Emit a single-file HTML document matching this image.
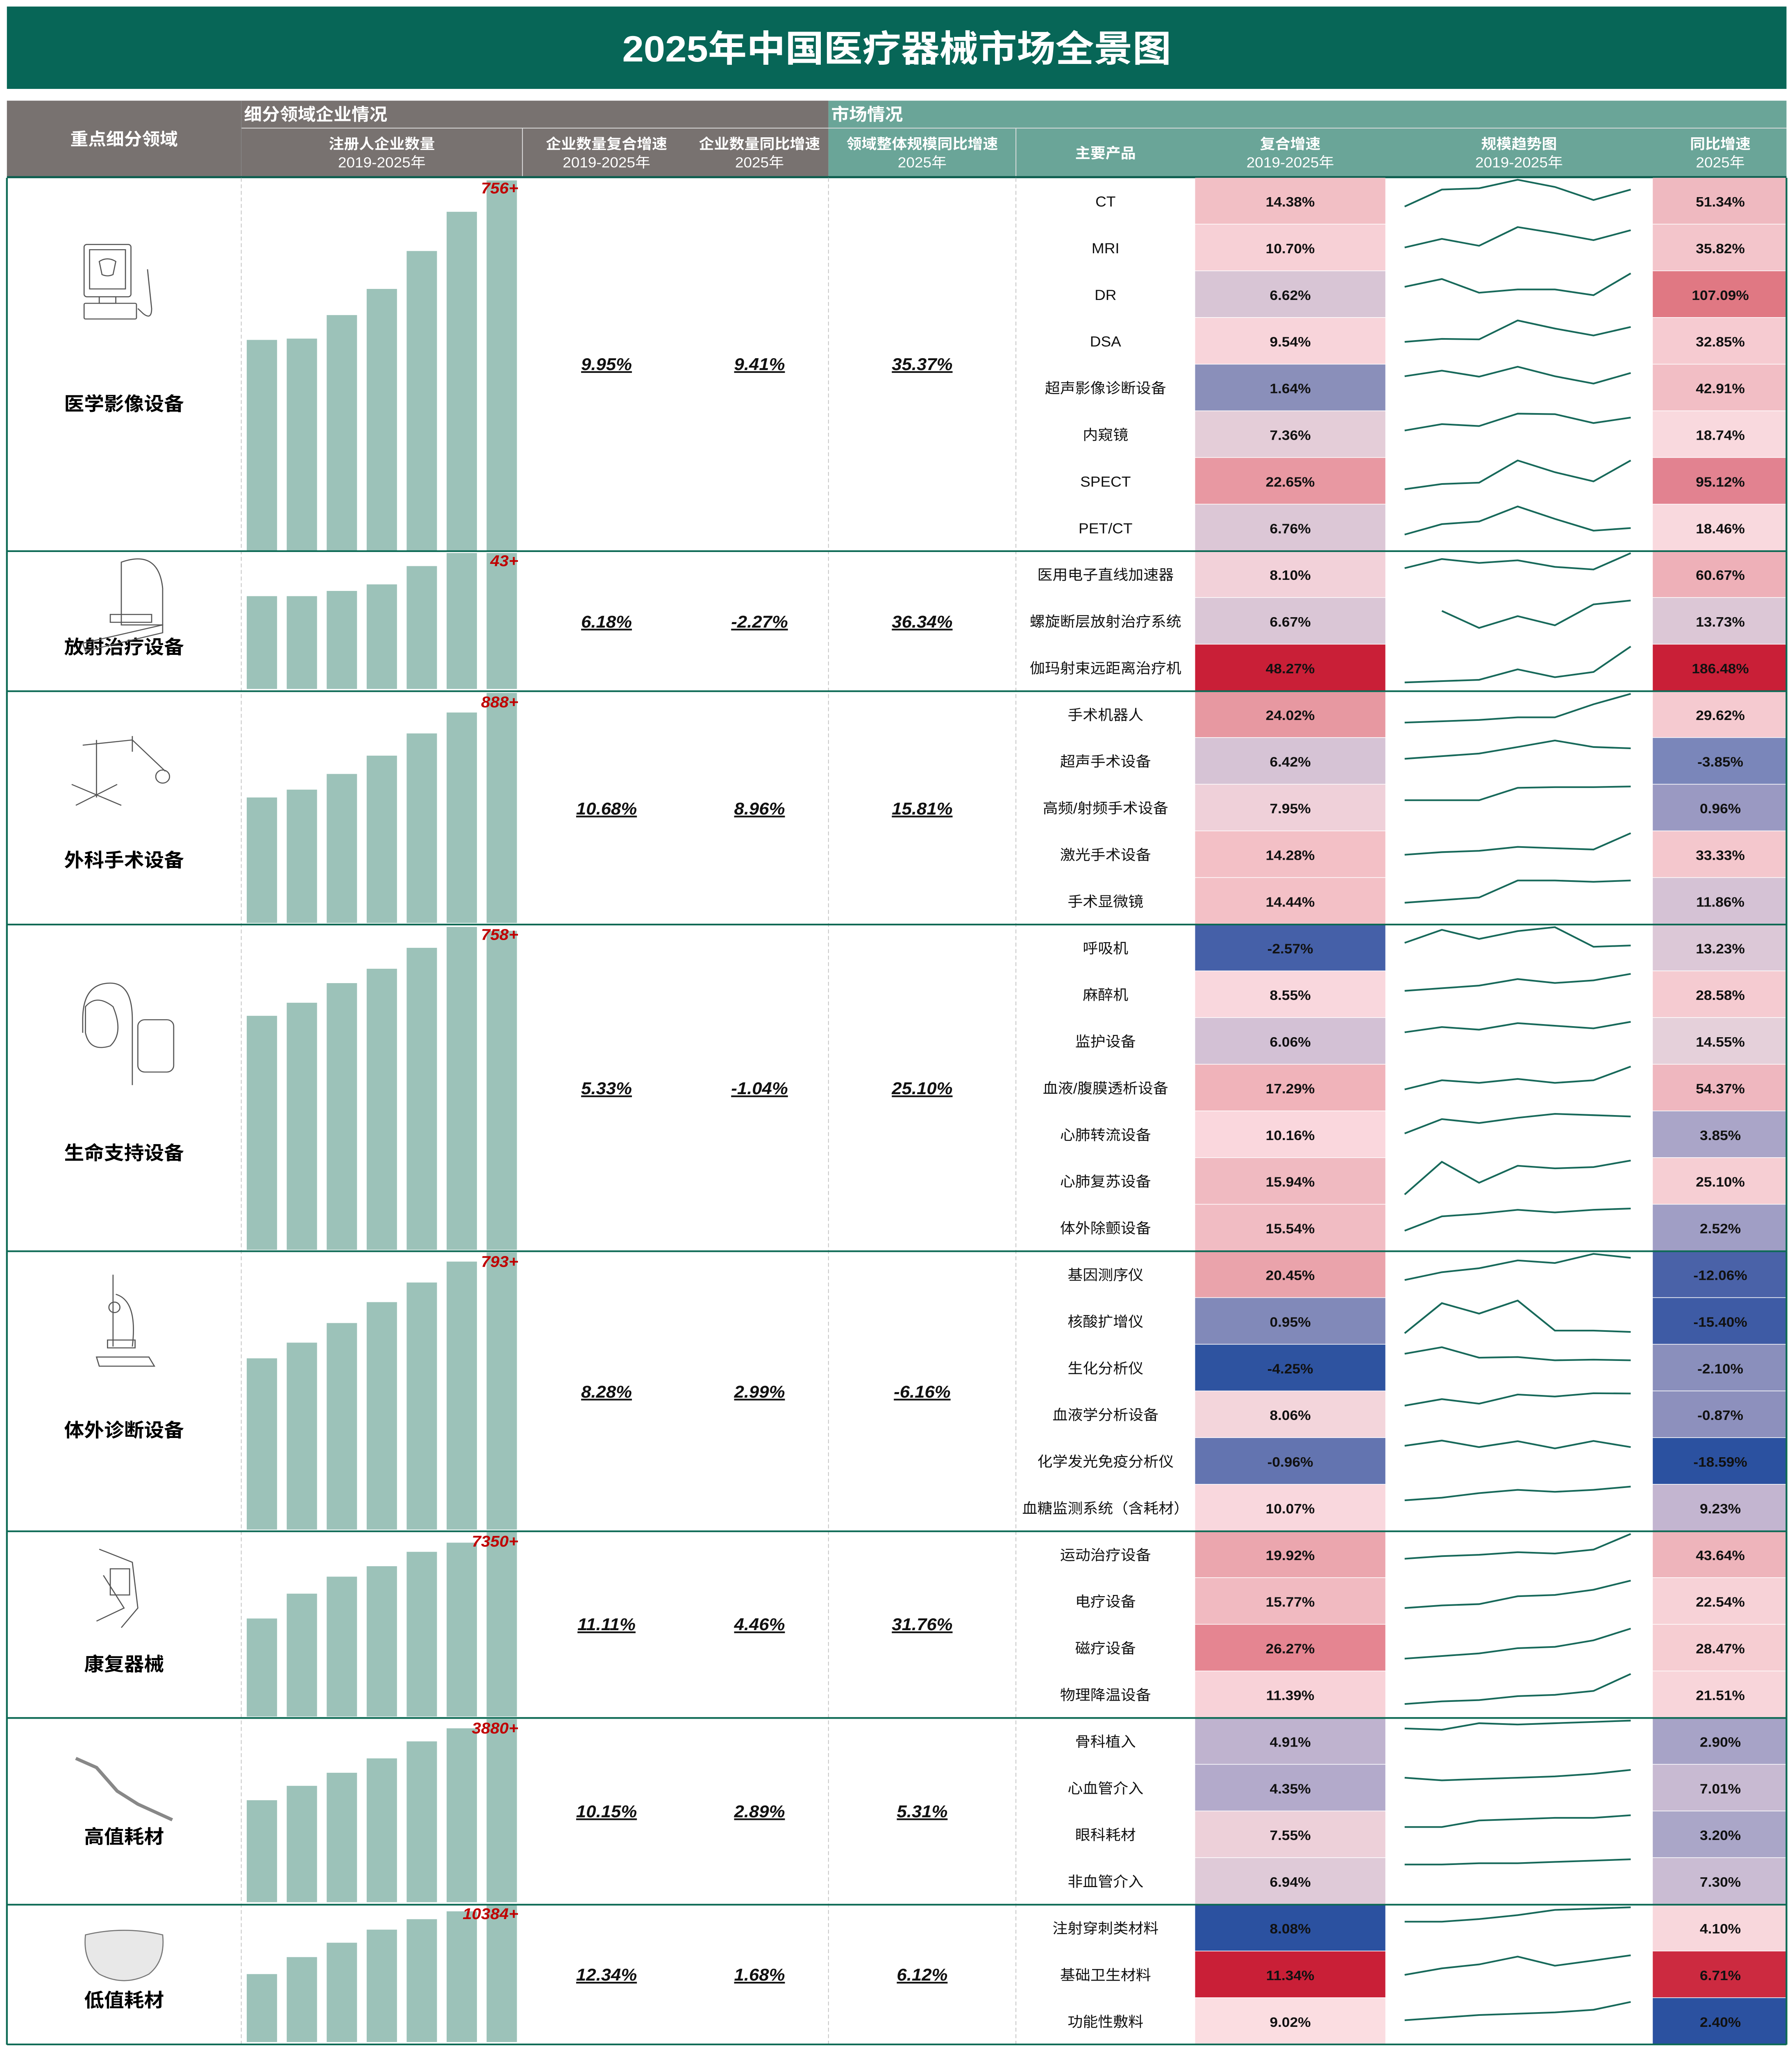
<!DOCTYPE html>
<html><head><meta charset="utf-8"><style>
html,body{margin:0;padding:0;background:#fff;width:100%;height:100%;overflow:hidden}
svg{display:block;position:fixed;left:0;top:0;width:100vw;height:100vh}
text{font-family:"Liberation Sans","Noto Sans CJK SC",sans-serif}
.p{font-size:11px;fill:#111;text-anchor:middle}
.v{font-size:10.5px;fill:#111;text-anchor:middle;font-weight:bold}
.hb{font-size:11px;fill:#fff;font-weight:bold;text-anchor:middle}
.hn{font-size:11px;fill:#fff;text-anchor:middle}
.sn{font-size:14.5px;fill:#000;font-weight:bold;text-anchor:middle}
.big{font-size:13px;fill:#111;font-weight:bold;font-style:italic;text-anchor:middle;text-decoration:underline}
.lab{font-size:12px;fill:#c00000;font-weight:bold;font-style:italic;text-anchor:end}
.sp{fill:none;stroke:#17695a;stroke-width:1.3}
.b{fill:#9cc2b9}
.ic{fill:none;stroke:#555;stroke-width:0.8}
</style></head><body>
<svg viewBox="0 0 1300 1567.3" preserveAspectRatio="none" xmlns="http://www.w3.org/2000/svg">
<rect x="0" y="0" width="1300" height="1567.3" fill="#fff"/>
<rect x="5" y="5" width="1291" height="63" fill="#076657"/>
<text x="650.5" y="47" style="font-size:28px;fill:#fff;font-weight:bold;text-anchor:middle">2025年中国医疗器械市场全景图</text>
<rect x="5" y="77" width="596" height="58" fill="#787270"/>
<rect x="601" y="77" width="695" height="58" fill="#6aa598"/>
<line x1="175" y1="98" x2="1296" y2="98" stroke="#ddd" stroke-width="0.6"/>
<line x1="379" y1="98" x2="379" y2="135" stroke="#ddd" stroke-width="0.6"/>
<line x1="737" y1="98" x2="737" y2="135" stroke="#ddd" stroke-width="0.6"/>
<line x1="175" y1="77" x2="175" y2="135" stroke="#888" stroke-width="0.4"/>
<text x="90" y="111" style="font-size:13px;fill:#fff;font-weight:bold;text-anchor:middle">重点细分领域</text>
<text x="177" y="92" style="font-size:13px;fill:#fff;font-weight:bold">细分领域企业情况</text>
<text x="603" y="92" style="font-size:13px;fill:#fff;font-weight:bold">市场情况</text>
<text class="hb" x="277" y="114">注册人企业数量</text><text class="hn" x="277" y="128">2019-2025年</text>
<text class="hb" x="440" y="114">企业数量复合增速</text><text class="hn" x="440" y="128">2019-2025年</text>
<text class="hb" x="551" y="114">企业数量同比增速</text><text class="hn" x="551" y="128">2025年</text>
<text class="hb" x="669" y="114">领域整体规模同比增速</text><text class="hn" x="669" y="128">2025年</text>
<text class="hb" x="802" y="121">主要产品</text>
<text class="hb" x="936" y="114">复合增速</text><text class="hn" x="936" y="128">2019-2025年</text>
<text class="hb" x="1102" y="114">规模趋势图</text><text class="hn" x="1102" y="128">2019-2025年</text>
<text class="hb" x="1248" y="114">同比增速</text><text class="hn" x="1248" y="128">2025年</text>
<line x1="5" y1="135.5" x2="1296" y2="135.5" stroke="#0d5e4f" stroke-width="1.6"/>

<line x1="175" y1="136" x2="175" y2="1564" stroke="#bbb" stroke-width="0.5" stroke-dasharray="3,2"/>
<line x1="601" y1="136" x2="601" y2="1564" stroke="#bbb" stroke-width="0.5" stroke-dasharray="3,2"/>
<line x1="737" y1="136" x2="737" y2="1564" stroke="#bbb" stroke-width="0.5" stroke-dasharray="3,2"/>

<g transform="translate(0,136)"><text class="p" x="802" y="22">CT</text><rect x="867" y="0" width="138" height="35.2" fill="#f2bfc5"/><text class="v" x="936" y="22">14.38%</text><polyline class="sp" points="1019,22 1046,9 1073,8 1101,1.5 1128,7 1156,17 1183,9"/><rect x="1199" y="0" width="97" height="35.2" fill="#efb9c0"/><text class="v" x="1248" y="22">51.34%</text></g>
<g transform="translate(0,171.7)"><text class="p" x="802" y="22">MRI</text><rect x="867" y="0" width="138" height="35.2" fill="#f7d0d6"/><text class="v" x="936" y="22">10.70%</text><polyline class="sp" points="1019,17.6 1046,11 1073,16.3 1101,2 1128,6.6 1156,12 1183,4.4"/><rect x="1199" y="0" width="97" height="35.2" fill="#f3c5cb"/><text class="v" x="1248" y="22">35.82%</text></g>
<g transform="translate(0,207.4)"><text class="p" x="802" y="22">DR</text><rect x="867" y="0" width="138" height="35.2" fill="#d8c5d5"/><text class="v" x="936" y="22">6.62%</text><polyline class="sp" points="1019,12 1046,6 1073,16.5 1101,14 1128,14 1156,18.4 1183,1.7"/><rect x="1199" y="0" width="97" height="35.2" fill="#e07883"/><text class="v" x="1248" y="22">107.09%</text></g>
<g transform="translate(0,243.1)"><text class="p" x="802" y="22">DSA</text><rect x="867" y="0" width="138" height="35.2" fill="#f8d4da"/><text class="v" x="936" y="22">9.54%</text><polyline class="sp" points="1019,18.4 1046,16.1 1073,16.5 1101,2 1128,8.2 1156,13.5 1183,7"/><rect x="1199" y="0" width="97" height="35.2" fill="#f6cbd1"/><text class="v" x="1248" y="22">32.85%</text></g>
<g transform="translate(0,278.8)"><text class="p" x="802" y="22">超声影像诊断设备</text><rect x="867" y="0" width="138" height="35.2" fill="#8a8fba"/><text class="v" x="936" y="22">1.64%</text><polyline class="sp" points="1019,9 1046,4.7 1073,9.3 1101,1.7 1128,9 1156,14.6 1183,6.5"/><rect x="1199" y="0" width="97" height="35.2" fill="#f2bec5"/><text class="v" x="1248" y="22">42.91%</text></g>
<g transform="translate(0,314.5)"><text class="p" x="802" y="22">内窥镜</text><rect x="867" y="0" width="138" height="35.2" fill="#e4cdd8"/><text class="v" x="936" y="22">7.36%</text><polyline class="sp" points="1019,14.8 1046,9.9 1073,11.4 1101,1.9 1128,2.3 1156,9.1 1183,4.9"/><rect x="1199" y="0" width="97" height="35.2" fill="#f9d9de"/><text class="v" x="1248" y="22">18.74%</text></g>
<g transform="translate(0,350.2)"><text class="p" x="802" y="22">SPECT</text><rect x="867" y="0" width="138" height="35.2" fill="#e898a2"/><text class="v" x="936" y="22">22.65%</text><polyline class="sp" points="1019,24 1046,20 1073,19 1101,2 1128,11 1156,18 1183,2"/><rect x="1199" y="0" width="97" height="35.2" fill="#e28290"/><text class="v" x="1248" y="22">95.12%</text></g>
<g transform="translate(0,385.9)"><text class="p" x="802" y="22">PET/CT</text><rect x="867" y="0" width="138" height="35.2" fill="#dcc7d6"/><text class="v" x="936" y="22">6.76%</text><polyline class="sp" points="1019,23 1046,15 1073,13 1101,1.5 1128,11 1156,20 1183,18"/><rect x="1199" y="0" width="97" height="35.2" fill="#f9d9de"/><text class="v" x="1248" y="22">18.46%</text></g>
<g transform="translate(0,421.6)"><text class="p" x="802" y="22">医用电子直线加速器</text><rect x="867" y="0" width="138" height="35.2" fill="#f2d1d9"/><text class="v" x="936" y="22">8.10%</text><polyline class="sp" points="1019,13 1046,6 1073,9 1101,7 1128,12 1156,14 1183,1.5"/><rect x="1199" y="0" width="97" height="35.2" fill="#eeb0b8"/><text class="v" x="1248" y="22">60.67%</text></g>
<g transform="translate(0,457.3)"><text class="p" x="802" y="22">螺旋断层放射治疗系统</text><rect x="867" y="0" width="138" height="35.2" fill="#dac6d6"/><text class="v" x="936" y="22">6.67%</text><polyline class="sp" points="1046,10 1073,23 1101,14 1128,21 1156,5 1183,2"/><rect x="1199" y="0" width="97" height="35.2" fill="#dcc7d6"/><text class="v" x="1248" y="22">13.73%</text></g>
<g transform="translate(0,493)"><text class="p" x="802" y="22">伽玛射束远距离治疗机</text><rect x="867" y="0" width="138" height="35.2" fill="#c91f37"/><text class="v" x="936" y="22">48.27%</text><polyline class="sp" points="1019,29 1046,28 1073,27 1101,19 1128,25 1156,21 1183,1.5"/><rect x="1199" y="0" width="97" height="35.2" fill="#c91f37"/><text class="v" x="1248" y="22">186.48%</text></g>
<g transform="translate(0,528.7)"><text class="p" x="802" y="22">手术机器人</text><rect x="867" y="0" width="138" height="35.2" fill="#e798a1"/><text class="v" x="936" y="22">24.02%</text><polyline class="sp" points="1019,24 1046,23 1073,22 1101,20 1128,20 1156,10 1183,2"/><rect x="1199" y="0" width="97" height="35.2" fill="#f5cad0"/><text class="v" x="1248" y="22">29.62%</text></g>
<g transform="translate(0,564.4)"><text class="p" x="802" y="22">超声手术设备</text><rect x="867" y="0" width="138" height="35.2" fill="#d6c3d5"/><text class="v" x="936" y="22">6.42%</text><polyline class="sp" points="1019,16 1046,14 1073,12 1101,7 1128,2 1156,7 1183,8"/><rect x="1199" y="0" width="97" height="35.2" fill="#7a86ba"/><text class="v" x="1248" y="22">-3.85%</text></g>
<g transform="translate(0,600.1)"><text class="p" x="802" y="22">高频/射频手术设备</text><rect x="867" y="0" width="138" height="35.2" fill="#efd0d9"/><text class="v" x="936" y="22">7.95%</text><polyline class="sp" points="1019,12 1046,12 1073,12 1101,2.5 1128,2 1156,2 1183,1.5"/><rect x="1199" y="0" width="97" height="35.2" fill="#9a99c2"/><text class="v" x="1248" y="22">0.96%</text></g>
<g transform="translate(0,635.8)"><text class="p" x="802" y="22">激光手术设备</text><rect x="867" y="0" width="138" height="35.2" fill="#f3c0c6"/><text class="v" x="936" y="22">14.28%</text><polyline class="sp" points="1019,18 1046,16 1073,15 1101,12 1128,13 1156,14 1183,1.5"/><rect x="1199" y="0" width="97" height="35.2" fill="#f4c7cd"/><text class="v" x="1248" y="22">33.33%</text></g>
<g transform="translate(0,671.5)"><text class="p" x="802" y="22">手术显微镜</text><rect x="867" y="0" width="138" height="35.2" fill="#f3c0c6"/><text class="v" x="936" y="22">14.44%</text><polyline class="sp" points="1019,19 1046,17 1073,15 1101,2 1128,2 1156,3 1183,2"/><rect x="1199" y="0" width="97" height="35.2" fill="#d5c2d5"/><text class="v" x="1248" y="22">11.86%</text></g>
<g transform="translate(0,707.2)"><text class="p" x="802" y="22">呼吸机</text><rect x="867" y="0" width="138" height="35.2" fill="#4560a8"/><text class="v" x="936" y="22">-2.57%</text><polyline class="sp" points="1019,14 1046,4 1073,11 1101,5 1128,2 1156,17 1183,16"/><rect x="1199" y="0" width="97" height="35.2" fill="#dcc8d7"/><text class="v" x="1248" y="22">13.23%</text></g>
<g transform="translate(0,742.9)"><text class="p" x="802" y="22">麻醉机</text><rect x="867" y="0" width="138" height="35.2" fill="#f9d7dd"/><text class="v" x="936" y="22">8.55%</text><polyline class="sp" points="1019,15 1046,13 1073,11 1101,6 1128,9 1156,7 1183,2"/><rect x="1199" y="0" width="97" height="35.2" fill="#f5cbd1"/><text class="v" x="1248" y="22">28.58%</text></g>
<g transform="translate(0,778.6)"><text class="p" x="802" y="22">监护设备</text><rect x="867" y="0" width="138" height="35.2" fill="#d3c1d5"/><text class="v" x="936" y="22">6.06%</text><polyline class="sp" points="1019,11 1046,7 1073,9 1101,4 1128,6 1156,8 1183,3"/><rect x="1199" y="0" width="97" height="35.2" fill="#e5d0da"/><text class="v" x="1248" y="22">14.55%</text></g>
<g transform="translate(0,814.3)"><text class="p" x="802" y="22">血液/腹膜透析设备</text><rect x="867" y="0" width="138" height="35.2" fill="#f0b3ba"/><text class="v" x="936" y="22">17.29%</text><polyline class="sp" points="1019,19 1046,12 1073,14 1101,11 1128,14 1156,12 1183,1.5"/><rect x="1199" y="0" width="97" height="35.2" fill="#efb7bf"/><text class="v" x="1248" y="22">54.37%</text></g>
<g transform="translate(0,850)"><text class="p" x="802" y="22">心肺转流设备</text><rect x="867" y="0" width="138" height="35.2" fill="#fad7dd"/><text class="v" x="936" y="22">10.16%</text><polyline class="sp" points="1019,17 1046,6 1073,9 1101,5 1128,2 1156,3 1183,4"/><rect x="1199" y="0" width="97" height="35.2" fill="#aaa5c8"/><text class="v" x="1248" y="22">3.85%</text></g>
<g transform="translate(0,885.7)"><text class="p" x="802" y="22">心肺复苏设备</text><rect x="867" y="0" width="138" height="35.2" fill="#f0bac1"/><text class="v" x="936" y="22">15.94%</text><polyline class="sp" points="1019,28 1046,3 1073,19 1101,6 1128,8 1156,7 1183,2"/><rect x="1199" y="0" width="97" height="35.2" fill="#f6ced3"/><text class="v" x="1248" y="22">25.10%</text></g>
<g transform="translate(0,921.4)"><text class="p" x="802" y="22">体外除颤设备</text><rect x="867" y="0" width="138" height="35.2" fill="#f1bcc3"/><text class="v" x="936" y="22">15.54%</text><polyline class="sp" points="1019,20 1046,9 1073,7 1101,4 1128,6 1156,4 1183,3"/><rect x="1199" y="0" width="97" height="35.2" fill="#a09ec5"/><text class="v" x="1248" y="22">2.52%</text></g>
<g transform="translate(0,957.1)"><text class="p" x="802" y="22">基因测序仪</text><rect x="867" y="0" width="138" height="35.2" fill="#eaa3ab"/><text class="v" x="936" y="22">20.45%</text><polyline class="sp" points="1019,22 1046,16 1073,13 1101,7 1128,9 1156,2 1183,5"/><rect x="1199" y="0" width="97" height="35.2" fill="#4a62a8"/><text class="v" x="1248" y="22">-12.06%</text></g>
<g transform="translate(0,992.8)"><text class="p" x="802" y="22">核酸扩增仪</text><rect x="867" y="0" width="138" height="35.2" fill="#8189b9"/><text class="v" x="936" y="22">0.95%</text><polyline class="sp" points="1019,27 1046,4 1073,12 1101,2 1128,25 1156,25 1183,26"/><rect x="1199" y="0" width="97" height="35.2" fill="#3e5ba5"/><text class="v" x="1248" y="22">-15.40%</text></g>
<g transform="translate(0,1028.5)"><text class="p" x="802" y="22">生化分析仪</text><rect x="867" y="0" width="138" height="35.2" fill="#2e53a0"/><text class="v" x="936" y="22">-4.25%</text><polyline class="sp" points="1019,7 1046,2 1073,10 1101,9.5 1128,12 1156,11.5 1183,12"/><rect x="1199" y="0" width="97" height="35.2" fill="#8a8fbc"/><text class="v" x="1248" y="22">-2.10%</text></g>
<g transform="translate(0,1064.2)"><text class="p" x="802" y="22">血液学分析设备</text><rect x="867" y="0" width="138" height="35.2" fill="#f3d5db"/><text class="v" x="936" y="22">8.06%</text><polyline class="sp" points="1019,11 1046,6 1073,9.5 1101,2.5 1128,4 1156,1.5 1183,1.7"/><rect x="1199" y="0" width="97" height="35.2" fill="#8d90bd"/><text class="v" x="1248" y="22">-0.87%</text></g>
<g transform="translate(0,1099.9)"><text class="p" x="802" y="22">化学发光免疫分析仪</text><rect x="867" y="0" width="138" height="35.2" fill="#6374b0"/><text class="v" x="936" y="22">-0.96%</text><polyline class="sp" points="1019,6 1046,2 1073,7 1101,2.5 1128,8 1156,2.3 1183,7"/><rect x="1199" y="0" width="97" height="35.2" fill="#2b51a0"/><text class="v" x="1248" y="22">-18.59%</text></g>
<g transform="translate(0,1135.6)"><text class="p" x="802" y="22">血糖监测系统（含耗材）</text><rect x="867" y="0" width="138" height="35.2" fill="#f9d7dd"/><text class="v" x="936" y="22">10.07%</text><polyline class="sp" points="1019,12 1046,10 1073,6.5 1101,4 1128,5.5 1156,4 1183,1.5"/><rect x="1199" y="0" width="97" height="35.2" fill="#c3b5d0"/><text class="v" x="1248" y="22">9.23%</text></g>
<g transform="translate(0,1171.3)"><text class="p" x="802" y="22">运动治疗设备</text><rect x="867" y="0" width="138" height="35.2" fill="#eba6ae"/><text class="v" x="936" y="22">19.92%</text><polyline class="sp" points="1019,21 1046,19 1073,18 1101,16 1128,17 1156,14 1183,2"/><rect x="1199" y="0" width="97" height="35.2" fill="#eeb4bb"/><text class="v" x="1248" y="22">43.64%</text></g>
<g transform="translate(0,1207)"><text class="p" x="802" y="22">电疗设备</text><rect x="867" y="0" width="138" height="35.2" fill="#f1bac1"/><text class="v" x="936" y="22">15.77%</text><polyline class="sp" points="1019,23 1046,21 1073,20 1101,14 1128,13 1156,9 1183,2"/><rect x="1199" y="0" width="97" height="35.2" fill="#f7d2d7"/><text class="v" x="1248" y="22">22.54%</text></g>
<g transform="translate(0,1242.7)"><text class="p" x="802" y="22">磁疗设备</text><rect x="867" y="0" width="138" height="35.2" fill="#e58591"/><text class="v" x="936" y="22">26.27%</text><polyline class="sp" points="1019,26 1046,24 1073,22 1101,18 1128,17 1156,12 1183,3"/><rect x="1199" y="0" width="97" height="35.2" fill="#f6cdd2"/><text class="v" x="1248" y="22">28.47%</text></g>
<g transform="translate(0,1278.4)"><text class="p" x="802" y="22">物理降温设备</text><rect x="867" y="0" width="138" height="35.2" fill="#f8d2d8"/><text class="v" x="936" y="22">11.39%</text><polyline class="sp" points="1019,25 1046,23 1073,22 1101,19 1128,18 1156,15 1183,2"/><rect x="1199" y="0" width="97" height="35.2" fill="#f8d5da"/><text class="v" x="1248" y="22">21.51%</text></g>
<g transform="translate(0,1314.1)"><text class="p" x="802" y="22">骨科植入</text><rect x="867" y="0" width="138" height="35.2" fill="#bfb3cf"/><text class="v" x="936" y="22">4.91%</text><polyline class="sp" points="1019,8 1046,9 1073,4 1101,5 1128,4 1156,3 1183,2"/><rect x="1199" y="0" width="97" height="35.2" fill="#a7a3c7"/><text class="v" x="1248" y="22">2.90%</text></g>
<g transform="translate(0,1349.8)"><text class="p" x="802" y="22">心血管介入</text><rect x="867" y="0" width="138" height="35.2" fill="#b3aacb"/><text class="v" x="936" y="22">4.35%</text><polyline class="sp" points="1019,10 1046,12 1073,11 1101,10 1128,9 1156,7 1183,4"/><rect x="1199" y="0" width="97" height="35.2" fill="#c8bad2"/><text class="v" x="1248" y="22">7.01%</text></g>
<g transform="translate(0,1385.5)"><text class="p" x="802" y="22">眼科耗材</text><rect x="867" y="0" width="138" height="35.2" fill="#edd0d9"/><text class="v" x="936" y="22">7.55%</text><polyline class="sp" points="1019,12 1046,12 1073,7 1101,6 1128,5 1156,5 1183,3"/><rect x="1199" y="0" width="97" height="35.2" fill="#aaa6c8"/><text class="v" x="1248" y="22">3.20%</text></g>
<g transform="translate(0,1421.2)"><text class="p" x="802" y="22">非血管介入</text><rect x="867" y="0" width="138" height="35.2" fill="#dfcad8"/><text class="v" x="936" y="22">6.94%</text><polyline class="sp" points="1019,5 1046,5 1073,4 1101,4 1128,3 1156,2 1183,1"/><rect x="1199" y="0" width="97" height="35.2" fill="#cabcd3"/><text class="v" x="1248" y="22">7.30%</text></g>
<g transform="translate(0,1456.9)"><text class="p" x="802" y="22">注射穿刺类材料</text><rect x="867" y="0" width="138" height="35.2" fill="#2b51a0"/><text class="v" x="936" y="22">8.08%</text><polyline class="sp" points="1019,13 1046,13 1073,11 1101,8 1128,4 1156,3 1183,2"/><rect x="1199" y="0" width="97" height="35.2" fill="#f8d7dc"/><text class="v" x="1248" y="22">4.10%</text></g>
<g transform="translate(0,1492.6)"><text class="p" x="802" y="22">基础卫生材料</text><rect x="867" y="0" width="138" height="35.2" fill="#c91f37"/><text class="v" x="936" y="22">11.34%</text><polyline class="sp" points="1019,18 1046,13 1073,10 1101,4 1128,11 1156,7 1183,3"/><rect x="1199" y="0" width="97" height="35.2" fill="#cc2a40"/><text class="v" x="1248" y="22">6.71%</text></g>
<g transform="translate(0,1528.3)"><text class="p" x="802" y="22">功能性敷料</text><rect x="867" y="0" width="138" height="35.2" fill="#fbdde1"/><text class="v" x="936" y="22">9.02%</text><polyline class="sp" points="1019,17 1046,15 1073,13 1101,12 1128,11 1156,9 1183,3"/><rect x="1199" y="0" width="97" height="35.2" fill="#2b51a0"/><text class="v" x="1248" y="22">2.40%</text></g>

<g class="b">
<rect x="179" y="260" width="22" height="161"/><rect x="208" y="259" width="22" height="162"/><rect x="237" y="241" width="22" height="180"/><rect x="266" y="221" width="22" height="200"/><rect x="295" y="192" width="22" height="229"/><rect x="324" y="162" width="22" height="259"/><rect x="353" y="138" width="22" height="283"/>
<rect x="179" y="456" width="22" height="71"/><rect x="208" y="456" width="22" height="71"/><rect x="237" y="452" width="22" height="75"/><rect x="266" y="447" width="22" height="80"/><rect x="295" y="433" width="22" height="94"/><rect x="324" y="423" width="22" height="104"/><rect x="353" y="423" width="22" height="104"/>
<rect x="179" y="610" width="22" height="96"/><rect x="208" y="604" width="22" height="102"/><rect x="237" y="592" width="22" height="114"/><rect x="266" y="578" width="22" height="128"/><rect x="295" y="561" width="22" height="145"/><rect x="324" y="545" width="22" height="161"/><rect x="353" y="530" width="22" height="176"/>
<rect x="179" y="777" width="22" height="179"/><rect x="208" y="767" width="22" height="189"/><rect x="237" y="752" width="22" height="204"/><rect x="266" y="741" width="22" height="215"/><rect x="295" y="725" width="22" height="231"/><rect x="324" y="709" width="22" height="247"/><rect x="353" y="712" width="22" height="244"/>
<rect x="179" y="1039" width="22" height="131"/><rect x="208" y="1027" width="22" height="143"/><rect x="237" y="1012" width="22" height="158"/><rect x="266" y="996" width="22" height="174"/><rect x="295" y="981" width="22" height="189"/><rect x="324" y="965" width="22" height="205"/><rect x="353" y="958" width="22" height="212"/>
<rect x="179" y="1238" width="22" height="75"/><rect x="208" y="1219" width="22" height="94"/><rect x="237" y="1206" width="22" height="107"/><rect x="266" y="1198" width="22" height="115"/><rect x="295" y="1187" width="22" height="126"/><rect x="324" y="1180" width="22" height="133"/><rect x="353" y="1172" width="22" height="141"/>
<rect x="179" y="1377" width="22" height="78"/><rect x="208" y="1366" width="22" height="89"/><rect x="237" y="1356" width="22" height="99"/><rect x="266" y="1345" width="22" height="110"/><rect x="295" y="1332" width="22" height="123"/><rect x="324" y="1322" width="22" height="133"/><rect x="353" y="1315" width="22" height="140"/>
<rect x="179" y="1510" width="22" height="52"/><rect x="208" y="1497" width="22" height="65"/><rect x="237" y="1486" width="22" height="76"/><rect x="266" y="1476" width="22" height="86"/><rect x="295" y="1468" width="22" height="94"/><rect x="324" y="1462" width="22" height="100"/><rect x="353" y="1457" width="22" height="105"/>
</g>
<text class="lab" x="376" y="148">756+</text>
<text class="lab" x="376" y="433">43+</text>
<text class="lab" x="376" y="541">888+</text>
<text class="lab" x="376" y="719">758+</text>
<text class="lab" x="376" y="969">793+</text>
<text class="lab" x="376" y="1183">7350+</text>
<text class="lab" x="376" y="1326">3880+</text>
<text class="lab" x="376" y="1468">10384+</text>

<text class="sn" x="90" y="314">医学影像设备</text>
<text class="sn" x="90" y="500">放射治疗设备</text>
<text class="sn" x="90" y="663">外科手术设备</text>
<text class="sn" x="90" y="887">生命支持设备</text>
<text class="sn" x="90" y="1099">体外诊断设备</text>
<text class="sn" x="90" y="1278">康复器械</text>
<text class="sn" x="90" y="1410">高值耗材</text>
<text class="sn" x="90" y="1535">低值耗材</text>

<text class="big" x="440" y="283">9.95%</text><text class="big" x="551" y="283">9.41%</text><text class="big" x="669" y="283">35.37%</text>
<text class="big" x="440" y="480">6.18%</text><text class="big" x="551" y="480">-2.27%</text><text class="big" x="669" y="480">36.34%</text>
<text class="big" x="440" y="623">10.68%</text><text class="big" x="551" y="623">8.96%</text><text class="big" x="669" y="623">15.81%</text>
<text class="big" x="440" y="837">5.33%</text><text class="big" x="551" y="837">-1.04%</text><text class="big" x="669" y="837">25.10%</text>
<text class="big" x="440" y="1069">8.28%</text><text class="big" x="551" y="1069">2.99%</text><text class="big" x="669" y="1069">-6.16%</text>
<text class="big" x="440" y="1247">11.11%</text><text class="big" x="551" y="1247">4.46%</text><text class="big" x="669" y="1247">31.76%</text>
<text class="big" x="440" y="1390">10.15%</text><text class="big" x="551" y="1390">2.89%</text><text class="big" x="669" y="1390">5.31%</text>
<text class="big" x="440" y="1515">12.34%</text><text class="big" x="551" y="1515">1.68%</text><text class="big" x="669" y="1515">6.12%</text>

<g class="ic">
<rect x="61" y="187" width="34" height="40" rx="2"/><rect x="65" y="191" width="26" height="30"/><path d="M72,200 Q78,196 84,200 L82,210 Q78,212 74,210 Z"/><rect x="72" y="227" width="12" height="5"/><rect x="61" y="232" width="38" height="12" rx="1"/><path d="M107,206 L110,236 Q110,245 104,240 L100,236"/>
<path d="M88,430 Q115,420 118,450 L118,478 L88,478 Z"/><path d="M60,492 L118,478 L118,484 L62,498 Z"/><rect x="80" y="470" width="30" height="6"/>
<path d="M96,563 L96,575 M60,570 L96,566 L120,590 M70,566 L70,610 M52,600 L88,616 M55,616 L85,600"/><circle cx="118" cy="594" r="5"/>
<path d="M80,752 Q60,752 60,780 L60,790 M80,752 Q96,752 96,780 L96,830"/><rect x="100" y="780" width="26" height="40" rx="5"/><path d="M62,770 Q70,760 82,770 Q90,790 80,800 Q65,805 62,790 Z"/>
<path d="M82,975 L82,1030 M72,1045 L112,1045 L108,1038 L70,1038 Z M84,990 Q100,995 96,1030"/><circle cx="83" cy="1000" r="4"/><rect x="78" y="1025" width="20" height="6"/>
<path d="M72,1185 L96,1195 L100,1230 L88,1245 M75,1205 L90,1230 L70,1240"/><rect x="80" y="1200" width="14" height="20"/>
<path d="M55,1345 L70,1352 L85,1370 L100,1380 L125,1392" style="stroke-width:2.5;stroke:#888"/>
<path d="M62,1480 Q60,1500 72,1510 Q90,1520 108,1510 Q120,1500 118,1480 Q90,1473 62,1480 Z" style="fill:#e8e8e8;stroke:#777"/>
</g>

<g stroke="#0d6a55" stroke-width="1.3">
<line x1="5" y1="421.6" x2="1296" y2="421.6"/>
<line x1="5" y1="528.7" x2="1296" y2="528.7"/>
<line x1="5" y1="707.2" x2="1296" y2="707.2"/>
<line x1="5" y1="957.1" x2="1296" y2="957.1"/>
<line x1="5" y1="1171.3" x2="1296" y2="1171.3"/>
<line x1="5" y1="1314.1" x2="1296" y2="1314.1"/>
<line x1="5" y1="1456.9" x2="1296" y2="1456.9"/>
<line x1="5" y1="1563.8" x2="1296" y2="1563.8"/>
<line x1="5" y1="136" x2="5" y2="1564"/>
<line x1="1296" y1="136" x2="1296" y2="1564"/>
</g>
</svg>
</body></html>
